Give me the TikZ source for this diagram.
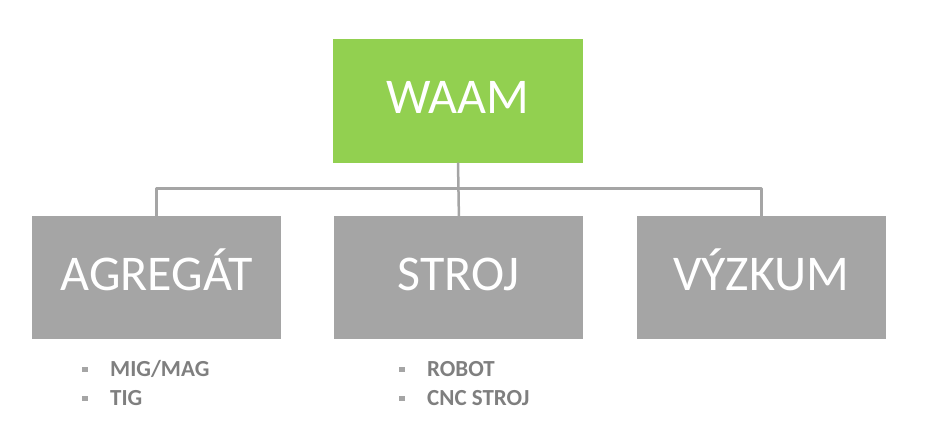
\documentclass[tikz,border=0pt]{standalone}
\usepackage{fontspec}
\setmainfont{Carlito}
\usetikzlibrary{positioning}
\definecolor{waamzelena}{HTML}{92D050}
\definecolor{seda}{HTML}{A5A5A5}
\definecolor{textseda}{HTML}{7F7F7F}
\begin{document}
\begin{tikzpicture}[x=1pt,y=-1pt,line join=round,
		hlavni/.style={fill=waamzelena,minimum width=250pt,minimum height=124pt,inner sep=0pt,
			text=white,text height=26pt,text depth=0pt,font=\fontsize{50}{50}\selectfont},
		vetev/.style={hlavni,fill=seda,minimum width=249pt,minimum height=123pt},
		spoj/.style={draw=seda,line width=2.5pt},
		polozka/.style={text=textseda,inner sep=0pt,anchor=base west,font=\fontsize{23}{23}\selectfont\bfseries},
		odrazka/.style={fill=seda,minimum size=5.5pt,inner sep=0pt}]
	\useasboundingbox (0,0) rectangle (925,447);
	\node[hlavni] (waam) at (458,100.5) {WAAM};
	\node[vetev] (agregat) at (156.5,277.5) {AGREGÁT};
	\node[vetev,right=53pt of agregat] (stroj) {STROJ};
	\node[vetev,right=53pt of stroj] (vyzkum) {VÝZKUM};
	\coordinate[below=26pt of waam.south] (rozcesti);
	\draw[spoj] (waam.south) -- (stroj.north);
	\draw[spoj] (agregat.north) |- (rozcesti) -| (vyzkum.north);
	% polozky pod vetvemi
	\node[polozka] (mig) at (110,376) {MIG/MAG};
	\node[polozka] (tig) at (110,405) {TIG};
	\node[polozka] (robot) at (427,376) {ROBOT};
	\node[polozka] (cnc) at (427,405) {CNC STROJ};
	\foreach \p in {mig,tig,robot,cnc}
	\node[odrazka] (o-\p) at ([xshift=-25pt,yshift=6.5pt]\p.base west) {};
\end{tikzpicture}
\end{document}
